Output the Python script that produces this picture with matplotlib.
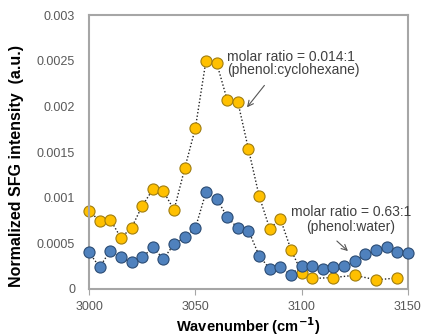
import matplotlib
matplotlib.use("Agg")
import matplotlib.pyplot as plt

plt.rcParams['font.family'] = ['Liberation Sans', 'DejaVu Sans']

# phenol in cyclohexane (0.014:1)
wn_cyclo = [3000, 3005, 3010, 3015, 3020, 3025, 3030, 3035, 3040, 3045,
            3050, 3055, 3060, 3065, 3070, 3075, 3080, 3085, 3090, 3095,
            3100, 3105, 3115, 3125, 3135, 3145]
sfg_cyclo = [0.00085, 0.00075, 0.00076, 0.00056, 0.00067, 0.00091, 0.00109, 0.00107, 0.000865, 0.00132,
             0.00176, 0.0025, 0.00248, 0.00207, 0.00205, 0.00153, 0.00102, 0.00066, 0.00077, 0.00043,
             0.00018, 0.000115, 0.000125, 0.00015, 0.0001, 0.00012]

# phenol in water (0.63:1)
wn_water = [3000, 3005, 3010, 3015, 3020, 3025, 3030, 3035, 3040, 3045,
            3050, 3055, 3060, 3065, 3070, 3075, 3080, 3085, 3090, 3095,
            3100, 3105, 3110, 3115, 3120, 3125, 3130, 3135, 3140, 3145, 3150]
sfg_water = [0.0004, 0.00024, 0.00042, 0.000345, 0.00029, 0.000345, 0.000455, 0.00033, 0.00049, 0.000565,
             0.000665, 0.00106, 0.00099, 0.00079, 0.000665, 0.00064, 0.000365, 0.00022, 0.00024, 0.000155,
             0.000255, 0.000255, 0.00022, 0.000245, 0.000255, 0.00031, 0.00038, 0.00043, 0.000455, 0.0004, 0.000395]

fig = plt.figure(figsize=(4.24, 3.36), dpi=100)
ax = fig.add_axes([0.21, 0.14, 0.752, 0.815])

ax.plot(wn_cyclo, sfg_cyclo, linestyle=(0, (1, 1.5)), color='#222222', lw=1.0,
        marker='o', markersize=8, markerfacecolor='#FFC000',
        markeredgecolor='#a07d10', markeredgewidth=0.8, zorder=2, clip_on=False)
ax.plot(wn_water, sfg_water, linestyle=(0, (1, 1.5)), color='#222222', lw=1.0,
        marker='o', markersize=8, markerfacecolor='#4F81BD',
        markeredgecolor='#2b4c74', markeredgewidth=0.8, zorder=3, clip_on=False)

ax.set_xlim(3000, 3150)
ax.set_ylim(0, 0.003)
ax.set_xticks([3000, 3050, 3100, 3150])
ax.set_yticks([0, 0.0005, 0.001, 0.0015, 0.002, 0.0025, 0.003])
ax.set_yticklabels(['0', '0.0005', '0.001', '0.0015', '0.002', '0.0025', '0.003'])

for s in ax.spines.values():
    s.set_color('#a6a6a6')
    s.set_linewidth(1.5)
ax.tick_params(axis='x', length=4, color='#a6a6a6', labelsize=9, labelcolor='#595959', pad=5)
ax.tick_params(axis='y', length=0, labelsize=9, labelcolor='#595959', pad=10)

ax.set_xlabel('Wavenumber (cm$^{\\mathbf{-1}}$)', fontsize=10.5, fontweight='bold', labelpad=1)
ax.set_ylabel('Normalized SFG intensity  (a.u.)', fontsize=11.5, fontweight='bold')
ax.yaxis.set_label_coords(-0.205, 0.45)

# labels with their pointer arrows
ax.text(3064.9, 0.00262, 'molar ratio = 0.014:1\n(phenol:cyclohexane)',
        fontsize=10, color='#404040', ha='left', va='top', linespacing=0.95)
ax.annotate('', xy=(3074.3, 0.00199), xytext=(3082.5, 0.00223),
            arrowprops=dict(arrowstyle='->', color='#555555', lw=0.8,
                            shrinkA=0, shrinkB=0))

ax.text(3123.2, 0.00092, 'molar ratio = 0.63:1\n(phenol:water)',
        fontsize=10, color='#404040', ha='center', va='top', linespacing=1.1,
        clip_on=False)
ax.annotate('', xy=(3121.8, 0.000415), xytext=(3116.6, 0.000525),
            arrowprops=dict(arrowstyle='->', color='#555555', lw=0.8,
                            shrinkA=0, shrinkB=0))

fig.savefig('out.png', dpi=100)
